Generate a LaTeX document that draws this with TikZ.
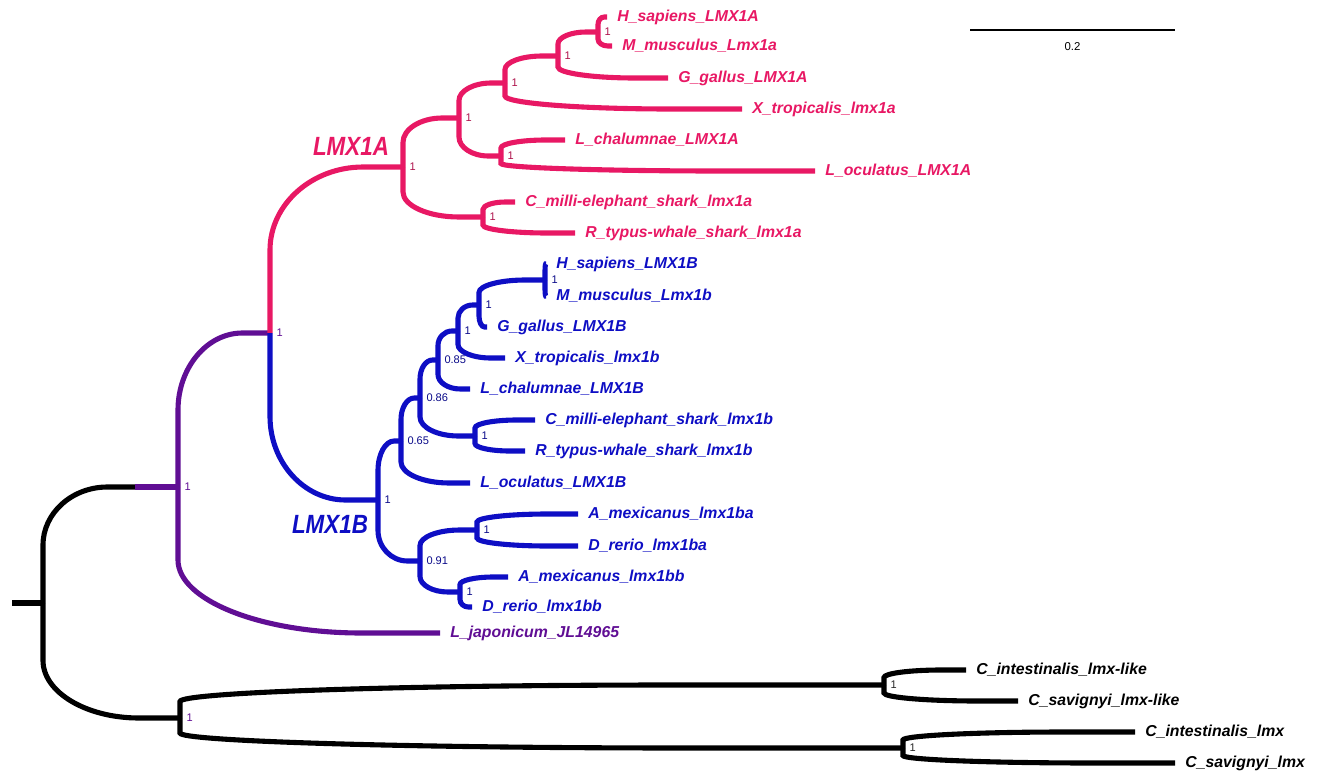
\documentclass[tikz,border=0pt]{standalone}
\usepackage{fontspec}
\setmainfont{Liberation Sans}
\usetikzlibrary{calc}
\definecolor{lmxa}{RGB}{232,24,100}
\definecolor{lmxb}{RGB}{14,14,196}
\definecolor{lampr}{RGB}{96,14,148}
\tikzset{
clade/.style={to path={
  let \p1=(\tikztostart), \p2=(\tikztotarget),
      \n1={0.7*(\x2-\x1)}, \n2={0.5*(\y2-\y1)}
  in -- (\x1,\y2-\n2)
  .. controls (\x1,\y2-0.45*\n2) and (\x1+0.45*\n1,\y2) .. (\x1+\n1,\y2)
  -- (\tikztotarget) \tikztonodes}}, % curved branch: down/up, then out to the child
branch/.style={line width=2.9pt}, % thickness of all branches
leaf/.style={anchor=west, inner xsep=0.2cm, inner ysep=0pt,
  font=\fontsize{9}{10}\selectfont\bfseries\itshape}, % tip labels
leafA/.style={leaf, text=lmxa},
leafB/.style={leaf, text=lmxb},
leafP/.style={leaf, text=lampr},
leafK/.style={leaf, text=black},
supp/.style={inner sep=0.5pt, font=\fontsize{6.3}{7}\selectfont}, % support values
suppA/.style={supp, text=lmxa!75!black},
suppB/.style={supp, text=lmxb!70!black},
suppP/.style={supp, text=lampr},
suppK/.style={supp, text=black!85},
bigname/.style={font=\fontsize{15}{17}\selectfont\bfseries\itshape, xscale=0.85}, % clade names
}
\begin{document}
\begin{tikzpicture}[x=0.02cm, y=-0.02cm, label distance=3pt]
\useasboundingbox (0,0) rectangle (1329,774);

% scale bar
\coordinate (sbL) at (970,30);
\coordinate (sbR) at (1175,30);
\draw[line width=1.4pt] (sbL) -- node[below=3pt, font=\fontsize{6.5}{7}\selectfont] {0.2} (sbR);

% root and outgroup
\coordinate (stub) at (12,603);
\coordinate (root) at (43,603);
\coordinate (split) at (135,487);
\coordinate[label={[suppP]right:1}] (cionaN) at (180,718);
\coordinate[label={[suppK]right:1}] (cLike) at (884,685);
\coordinate[label={[suppK]right:1}] (cLmx) at (903,748);
\node[leafK] (ciL) at (966,670) {C\_intestinalis\_lmx-like};
\node[leafK] (csL) at (1018,701) {C\_savignyi\_lmx-like};
\node[leafK] (ciX) at (1135,732) {C\_intestinalis\_lmx};
\node[leafK] (csX) at (1175,763) {C\_savignyi\_lmx};

% lamprey
\coordinate[label={[suppP]right:1}] (purpN) at (178,487);
\coordinate[label={[suppP]right:1}] (lmx1N) at (270,333);
\node[leafP] (ljap) at (440,633) {L\_japonicum\_JL14965};

% LMX1A
\coordinate[label={[suppA]right:1}] (lmx1aN) at (403,167);
\coordinate[label={[suppA]right:1}] (tetA) at (459,118);
\coordinate[label={[suppA]right:1}] (hmgxA) at (505,83);
\coordinate[label={[suppA]right:1}] (hmgA) at (558,56);
\coordinate[label={[suppA]right:1}] (hmA) at (598,32);
\coordinate[label={[suppA]right:1}] (lcloA) at (501,156);
\coordinate[label={[suppA]right:1}] (shkA) at (483,217);
\node[leafA] (hsA) at (607,17) {H\_sapiens\_LMX1A};
\node[leafA] (mmA) at (612,46) {M\_musculus\_Lmx1a};
\node[leafA] (ggA) at (668,78) {G\_gallus\_LMX1A};
\node[leafA] (xtA) at (742,109) {X\_tropicalis\_lmx1a};
\node[leafA] (lcA) at (565,140) {L\_chalumnae\_LMX1A};
\node[leafA] (loA) at (815,171) {L\_oculatus\_LMX1A};
\node[leafA] (cmA) at (515,202) {C\_milli-elephant\_shark\_lmx1a};
\node[leafA] (rtA) at (575,233) {R\_typus-whale\_shark\_lmx1a};
\node[bigname, text=lmxa] (nameA) at (351,146) {LMX1A};

% LMX1B
\coordinate[label={[suppB]right:1}] (lmx1bN) at (378,500);
\coordinate[label={[suppB]right:0.65}] (n065) at (401,441);
\coordinate[label={[suppB]right:0.86}] (n086) at (420,398);
\coordinate[label={[suppB]right:0.85}] (n085) at (438,360);
\coordinate[label={[suppB]right:1}] (hmgxB) at (458,331);
\coordinate[label={[suppB]right:1}] (hmgB) at (479,305);
\coordinate[label={[suppB]right:1}] (hmB) at (545,280);
\coordinate[label={[suppB]right:1}] (shkB) at (475,436);
\coordinate[label={[suppB]right:0.91}] (n091) at (420,561);
\coordinate[label={[suppB]right:1}] (zfa) at (477,530);
\coordinate[label={[suppB]right:1}] (zfb) at (460,592);
\node[leafB] (hsB) at (546,264) {H\_sapiens\_LMX1B};
\node[leafB] (mmB) at (546,296) {M\_musculus\_Lmx1b};
\node[leafB] (ggB) at (487,327) {G\_gallus\_LMX1B};
\node[leafB] (xtB) at (505,358) {X\_tropicalis\_lmx1b};
\node[leafB] (lcB) at (470,389) {L\_chalumnae\_LMX1B};
\node[leafB] (cmB) at (535,420) {C\_milli-elephant\_shark\_lmx1b};
\node[leafB] (rtB) at (525,451) {R\_typus-whale\_shark\_lmx1b};
\node[leafB] (loB) at (470,483) {L\_oculatus\_LMX1B};
\node[leafB] (amA) at (578,514) {A\_mexicanus\_lmx1ba};
\node[leafB] (drA) at (578,546) {D\_rerio\_lmx1ba};
\node[leafB] (amB) at (508,577) {A\_mexicanus\_lmx1bb};
\node[leafB] (drB) at (472,607) {D\_rerio\_lmx1bb};
\node[bigname, text=lmxb] (nameB) at (330,524) {LMX1B};

% branches
\draw[branch] (stub) -- (root);
\draw[branch] (root) edge[clade] (split)
  (root) edge[clade] (cionaN)
  (cionaN) edge[clade] (cLike)
  (cionaN) edge[clade] (cLmx)
  (cLike) edge[clade] (ciL.west)
  (cLike) edge[clade] (csL.west)
  (cLmx) edge[clade] (ciX.west)
  (cLmx) edge[clade] (csX.west);
\draw[branch, lampr] (split) -- (purpN);
\draw[branch, lampr] (purpN) edge[clade] (lmx1N)
  (purpN) edge[clade] (ljap.west);
\draw[branch, lmxa] (lmx1N) edge[clade] (lmx1aN)
  (lmx1aN) edge[clade] (tetA)
  (lmx1aN) edge[clade] (shkA)
  (tetA) edge[clade] (hmgxA)
  (tetA) edge[clade] (lcloA)
  (hmgxA) edge[clade] (hmgA)
  (hmgxA) edge[clade] (xtA.west)
  (hmgA) edge[clade] (hmA)
  (hmgA) edge[clade] (ggA.west)
  (hmA) edge[clade] (hsA.west)
  (hmA) edge[clade] (mmA.west)
  (lcloA) edge[clade] (lcA.west)
  (lcloA) edge[clade] (loA.west)
  (shkA) edge[clade] (cmA.west)
  (shkA) edge[clade] (rtA.west);
\draw[branch, lmxb] (lmx1N) edge[clade] (lmx1bN)
  (lmx1bN) edge[clade] (n065)
  (lmx1bN) edge[clade] (n091)
  (n065) edge[clade] (n086)
  (n065) edge[clade] (loB.west)
  (n086) edge[clade] (n085)
  (n086) edge[clade] (shkB)
  (n085) edge[clade] (hmgxB)
  (n085) edge[clade] (lcB.west)
  (hmgxB) edge[clade] (hmgB)
  (hmgxB) edge[clade] (xtB.west)
  (hmgB) edge[clade] (hmB)
  (hmgB) edge[clade] (ggB.west)
  (hmB) edge[clade] (hsB.west)
  (hmB) edge[clade] (mmB.west)
  (shkB) edge[clade] (cmB.west)
  (shkB) edge[clade] (rtB.west)
  (n091) edge[clade] (zfa)
  (n091) edge[clade] (zfb)
  (zfa) edge[clade] (amA.west)
  (zfa) edge[clade] (drA.west)
  (zfb) edge[clade] (amB.west)
  (zfb) edge[clade] (drB.west);
\end{tikzpicture}
\end{document}
